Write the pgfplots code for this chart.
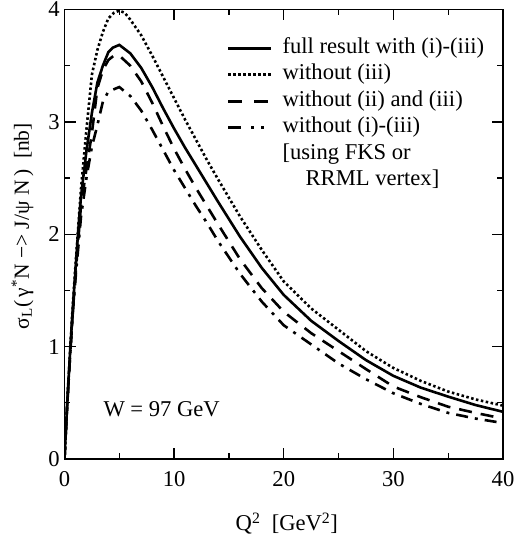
\documentclass[border=0pt]{standalone}
\usepackage{pgfplots}
\pgfplotsset{compat=1.18}
\usepackage{fontspec}
\setmainfont{Liberation Serif}
\begin{document}
\fontsize{22.6bp}{27bp}\selectfont
\begin{tikzpicture}
\useasboundingbox (-64.5bp,-89bp) rectangle (450.5bp,459bp);
\begin{axis}[
  at={(0,0)}, anchor=south west,
  scale only axis, width=438.5bp, height=449.5bp,
  xmin=0, xmax=40, ymin=0, ymax=4,
  xtick={0,10,20,30,40}, ytick={0,1,2,3,4},
  minor x tick num=1, minor y tick num=1,
  tick align=inside,
  major tick length=11bp, minor tick length=6bp,
  axis line style={line width=1.6bp},
  every tick/.append style={black, line width=1.3bp},
  /pgf/number format/assume math mode=true,
  xticklabel style={yshift=-5bp},
  yticklabel style={xshift=3bp},
  xlabel={Q\textsuperscript{2}~~[GeV\textsuperscript{2}]},
  ylabel={σ\textsubscript{L}(\,γ\textsuperscript{*}N −> J/ψ N\,)~~[nb]},
  x label style={at={(axis description cs:0.507,-0.160)}, anchor=base},
  y label style={at={(axis description cs:-0.096,0.518)}, anchor=center,
    font=\fontsize{21.5bp}{26bp}\selectfont},
  legend image code/.code={\draw[#1] (0bp,0bp) -- (43bp,0bp);},
  legend cell align=left,
  legend style={draw=none, fill=none, inner sep=0pt, outer sep=0pt,
    at={(rel axis cs:0.3706,0.936)}, anchor=north west,
    column sep=10bp, row sep=6.5bp,
    nodes={inner sep=0pt, text height=15bp, text depth=5bp}},
]
\addlegendimage{line width=2.6bp}
\addlegendentry{full result with (i)-(iii)}
\addlegendimage{line width=2.6bp, dash pattern=on 2.5bp off 2.5bp}
\addlegendentry{without (iii)}
\addlegendimage{line width=2.6bp, dash pattern=on 14bp off 12bp}
\addlegendentry{without (ii) and (iii)}
\addlegendimage{line width=2.6bp, dash pattern=on 13bp off 10bp on 3bp off 7bp on 3bp off 10bp}
\addlegendentry{without (i)-(iii)}
\addlegendimage{empty legend}
\addlegendentry{[using FKS or}
\addlegendimage{empty legend}
\addlegendentry{\hspace{23bp}RRML vertex]}

% full result
\addplot[forget plot, black, line width=2.6bp] coordinates {
(0,0) (0.25,0.5) (0.5,0.93) (0.75,1.33) (1,1.68) (1.25,2.03) (1.5,2.33) (2,2.74)
(2.5,3.08) (3,3.35) (3.5,3.50) (4,3.62) (4.4,3.66) (5,3.685) (6,3.61) (7,3.48)
(8,3.31) (9,3.12) (10,2.94) (11,2.77) (12,2.61) (13,2.45) (14,2.29) (16,1.98)
(18,1.70) (20,1.46) (22.5,1.23) (25,1.05) (27.5,0.88) (30,0.74) (32.5,0.635)
(35,0.555) (37.5,0.48) (40,0.42)};
% without (iii)
\addplot[forget plot, black, line width=2.6bp, dash pattern=on 2.5bp off 2.5bp] coordinates {
(0,0) (0.25,0.51) (0.5,0.95) (0.75,1.36) (1,1.72) (1.5,2.40) (2,2.93) (2.5,3.42)
(3,3.64) (3.5,3.80) (4,3.92) (4.5,3.97) (5,3.99) (5.5,3.97) (6,3.91) (7,3.77)
(8,3.59) (9,3.40) (10,3.21) (11,3.02) (12,2.84) (13,2.66) (14,2.49) (16,2.16)
(18,1.86) (20,1.58) (22.5,1.34) (25,1.15) (27.5,0.96) (30,0.81) (32.5,0.695)
(35,0.60) (37.5,0.53) (40,0.475)};
% without (ii) and (iii)
\addplot[forget plot, black, line width=2.6bp, dash pattern=on 13bp off 9bp] coordinates {
(0,0) (0.25,0.48) (0.5,0.9) (0.75,1.3) (1,1.63) (1.5,2.25) (2,2.58) (2.5,2.9)
(3,3.30) (3.5,3.46) (4,3.55) (4.5,3.59) (5,3.59) (6,3.50) (7,3.36) (8,3.17)
(9,2.96) (10,2.76) (11,2.58) (12,2.41) (13,2.25) (14,2.09) (16,1.78) (18,1.52)
(20,1.31) (22.5,1.12) (25,0.96) (27.5,0.80) (30,0.645) (32.5,0.55) (35,0.465)
(37.5,0.41) (40,0.36)};
% without (i)-(iii)
\addplot[forget plot, black, line width=2.6bp, dash pattern=on 12bp off 7bp on 3bp off 7bp] coordinates {
(0,0) (0.25,0.48) (0.5,0.9) (0.75,1.28) (1,1.6) (1.5,2.15) (2,2.5) (2.5,2.78)
(3,2.97) (3.5,3.18) (4,3.27) (5,3.31) (6,3.23) (7,3.10) (8,2.93) (9,2.75)
(10,2.57) (11,2.41) (12,2.25) (13,2.10) (14,1.94) (16,1.65) (18,1.40) (20,1.19)
(22.5,1.02) (25,0.85) (27.5,0.71) (30,0.585) (32.5,0.49) (35,0.41) (37.5,0.36)
(40,0.32)};

\node[anchor=base west, inner sep=0pt] at (axis cs:3.54,0.374) {W = 97 GeV};
\end{axis}
\end{tikzpicture}
\end{document}
